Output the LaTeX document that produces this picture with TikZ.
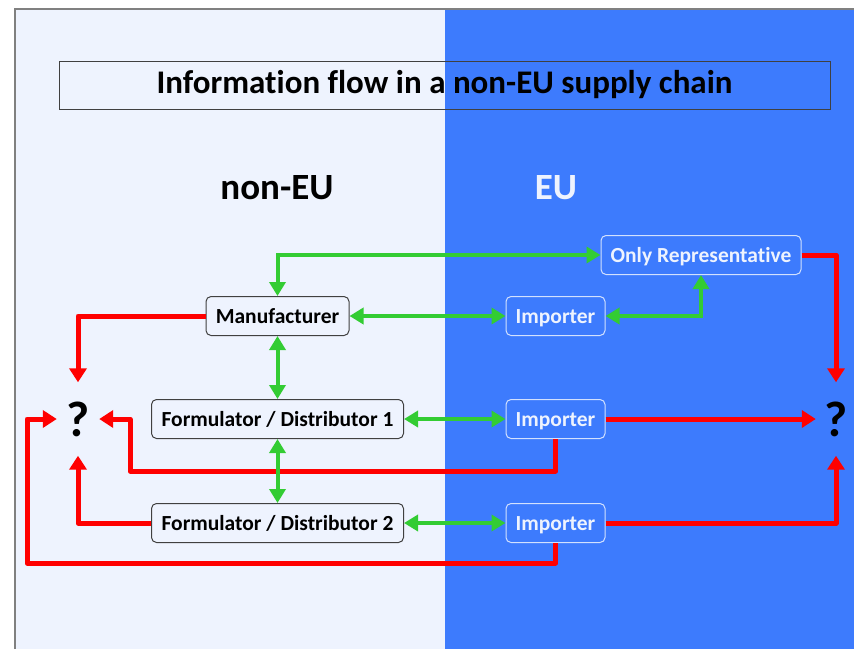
\documentclass[tikz,border=0pt]{standalone}
\usepackage{fontspec}
\setmainfont{Carlito}[Ligatures=NoCommon]
\usetikzlibrary{arrows.meta}

\definecolor{paleblue}{HTML}{EEF3FE}
\definecolor{eublue}{HTML}{3D7BFD}
\definecolor{flowgreen}{HTML}{33CC33}
\definecolor{flowred}{HTML}{FF0000}
\definecolor{boxgray}{HTML}{404040}

\tikzstyle{actor}=[shape=rectangle,rounded corners=5pt,draw=boxgray,line width=1pt,minimum height=39pt,inner sep=0pt,text height=14pt,text depth=0pt,font=\fontsize{21.5}{24}\selectfont\bfseries]
\tikzstyle{euactor}=[actor,draw=paleblue!85!eublue,text=paleblue]
\tikzstyle{query}=[minimum width=42pt,minimum height=73pt,inner sep=0pt,font=\fontsize{50}{50}\selectfont\bfseries]
\tikzstyle{infoedge}=[{Triangle[length=14pt,width=16pt]}-{Triangle[length=14pt,width=16pt]},draw=flowgreen,line width=4pt]
\tikzstyle{dataedge}=[-{Triangle[length=14pt,width=17pt]},draw=flowred,line width=5pt,line join=round]

\begin{document}
\begin{tikzpicture}[x=1pt,y=-1pt]
\useasboundingbox (0,0) rectangle (854,649);
% background
\fill[paleblue] (15,9) rectangle (445,649);
\fill[eublue] (445,9) rectangle (854,649);
\draw[gray,line width=2pt] (15,649) -- (15,9) -- (854,9);
% heading
\node[draw=boxgray,line width=1pt,minimum width=771pt,minimum height=48pt,inner sep=0pt,font=\fontsize{33}{36}\selectfont\bfseries] (title) at (444.5,85) {Information flow in a non-EU supply chain};
\node[font=\fontsize{37}{40}\selectfont\bfseries] (noneu) at (277,188) {non-EU};
\node[font=\fontsize{37}{40}\selectfont\bfseries,text=paleblue] (eu) at (556,188) {EU};
% non-EU column
\node[actor,minimum width=143pt] (man) at (277.5,316) {Manufacturer};
\node[actor,minimum width=252pt] (fd1) at (277.5,419) {Formulator / Distributor 1};
\node[actor,minimum width=252pt] (fd2) at (277.5,523) {Formulator / Distributor 2};
\node[query] (qleft) at (78,419) {?};
% EU column
\node[euactor,minimum width=200pt] (or) at (701,255) {Only Representative};
\node[euactor,minimum width=99pt] (imp1) at (555.5,316) {Importer};
\node[euactor,minimum width=99pt] (imp2) at (555.5,419) {Importer};
\node[euactor,minimum width=99pt] (imp3) at (555.5,523) {Importer};
\node[query,minimum width=40pt] (qright) at (836,419) {?};
% red flows
\coordinate (loop1) at (130,471);
\coordinate (loop2) at (27,563);
\draw[dataedge] (man.west) -| (qleft.north);
\draw[dataedge] (or.east) -| (qright.north);
\draw[dataedge] (imp2.east) -- (qright.west);
\draw[dataedge] (imp3.east) -| (qright.south);
\draw[dataedge] (fd2.west) -| (qleft.south);
\draw[dataedge] (imp2.south) |- (loop1) |- (qleft.east);
\draw[dataedge] (imp3.south) |- (loop2) |- (qleft.west);
% green flows
\draw[infoedge] (man.north) |- (or.west);
\draw[infoedge] (man.east) -- (imp1.west);
\draw[infoedge] (imp1.east) -| (or.south);
\draw[infoedge] (man.south) -- (fd1.north);
\draw[infoedge] (fd1.south) -- (fd2.north);
\draw[infoedge] (fd1.east) -- (imp2.west);
\draw[infoedge] (fd2.east) -- (imp3.west);
\end{tikzpicture}
\end{document}
